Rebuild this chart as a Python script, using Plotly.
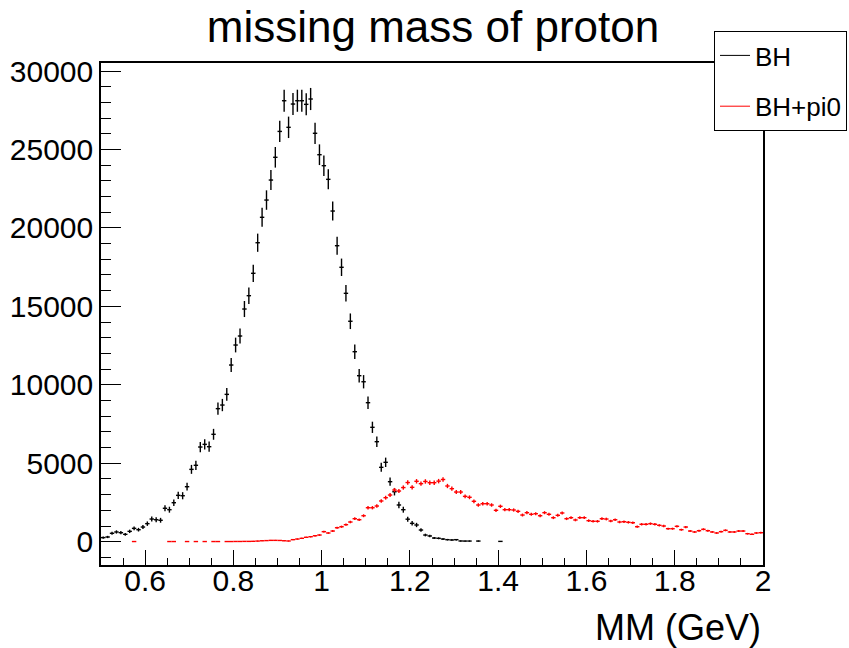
import numpy as np
import plotly.graph_objects as go

# Histogram binning: 150 bins of 0.01 GeV from 0.5 to 2.0
x_lo = 0.5
bin_w = 0.01

# BH (black), bins 0..90 (0 = empty bin, not drawn)
bh = [260, 300, 535, 620, 575, 470, 660, 850, 765, 935,
      1150, 1445, 1400, 1365, 2130, 2040, 2485, 2955, 2930, 3505,
      4610, 4870, 6035, 6205, 6055, 6845, 8480, 8710, 9390, 11260,
      12535, 13110, 14830, 15680, 17105, 19055, 20675, 21775, 23050, 24500,
      26150, 28105, 26410, 27895, 28105, 28105, 27875, 28215, 26030, 24665,
      23965, 23095, 21075, 18865, 17490, 15830, 14050, 12110, 10580, 10195,
      8860, 7290, 6375, 4740, 5060, 3825, 3185, 2340, 2040, 1435,
      1170, 1065, 745, 425, 365, 235, 215, 170, 130, 110,
      130, 45, 41, 41, 0, 41, 0, 0, 0, 0,
      20]

# BH+pi0 (red), bins 0..149
bhpi0 = [0, 0, 0, 0, 0, 0, 0, 10, 0, 0,
         0, 0, 0, 0, 0, 10, 10, 0, 0, 10,
         0, 10, 0, 10, 0, 10, 10, 0, 10, 10,
         15, 15, 20, 20, 25, 40, 60, 70, 85, 85,
         80, 60, 45, 130, 170, 215, 280, 320, 380, 425,
         640, 555, 680, 890, 955, 1085, 1255, 1465, 1400, 1655,
         2165, 2165, 2275, 2595, 2805, 2975, 3295, 3230, 3450, 3770,
         3465, 3850, 3700, 3840, 3760, 3760, 3860, 3965, 3550, 3380,
         3165, 3165, 2890, 2830, 2575, 2340, 2420, 2420, 2340, 2000,
         2255, 2040, 2040, 2020, 1935, 1700, 1850, 1745, 1785, 1655,
         1850, 1745, 1530, 1680, 1830, 1465, 1530, 1385, 1530, 1530,
         1340, 1300, 1300, 1465, 1445, 1320, 1400, 1255, 1275, 1235,
         1210, 955, 1110, 1110, 1150, 1110, 1045, 1000, 830, 830,
         980, 765, 935, 680, 620, 700, 790, 700, 620, 555,
         640, 725, 620, 620, 680, 680, 510, 470, 555, 575]

# error scale (weighted-histogram errors ~ k*sqrt(N))
k_bh = 4.2
k_pi0 = 2.3


def hist_points(vals, k):
    vals = np.asarray(vals, dtype=float)
    centers = x_lo + bin_w * (np.arange(len(vals)) + 0.5)
    m = vals > 0
    return centers[m], vals[m], k * np.sqrt(vals[m])


fig = go.Figure()
for vals, k, col, name, grp in [(bh, k_bh, "black", "BH", "a"),
                                (bhpi0, k_pi0, "#ff0000", "BH+pi0", "b")]:
    xs, ys, es = hist_points(vals, k)
    fig.add_trace(go.Scatter(
        x=xs, y=ys, mode="markers", showlegend=False,
        marker=dict(size=1, color=col),
        error_x=dict(type="constant", value=bin_w / 2, width=0, thickness=1.4, color=col),
        error_y=dict(type="data", array=es, width=0, thickness=1.4, color=col),
    ))
    fig.add_trace(go.Scatter(
        x=[None], y=[None], mode="lines", name=name, legendgroup=grp,
        line=dict(color=col, width=1),
    ))

font = "Liberation Sans, Arial, sans-serif"
fig.update_layout(
    width=849, height=648,
    margin=dict(l=101, r=86, t=63, b=83, autoexpand=False),
    paper_bgcolor="white", plot_bgcolor="white",
    font=dict(family=font, color="black", size=30),
    title=dict(text="missing mass of proton", x=0.51, xref="container", xanchor="center",
               y=1 - 27 / 648, yref="container", yanchor="middle",
               font=dict(size=44, family=font, color="black")),
    legend=dict(x=(714 - 101) / 662, xanchor="left", y=(565 - 31) / 502, yanchor="top",
                bgcolor="white", bordercolor="black", borderwidth=1,
                font=dict(size=26, family=font, color="black"),
                tracegroupgap=14, itemwidth=30, entrywidth=130, entrywidthmode="pixels"),
    xaxis=dict(range=[0.5, 2.0], showgrid=False, zeroline=False,
               showline=True, linecolor="black", linewidth=1.5, mirror=True,
               ticks="inside", ticklen=15, tickwidth=1.3, tickcolor="black",
               tick0=0, dtick=0.2, tickformat="~g", ticklabelstandoff=-12,
               minor=dict(dtick=0.05, ticks="inside", ticklen=7.5, tickwidth=1.3, tickcolor="black"),
               tickfont=dict(size=30)),
    yaxis=dict(range=[-1485, 30510], showgrid=False, zeroline=False,
               showline=True, linecolor="black", linewidth=1.5, mirror=True,
               ticks="inside", ticklen=20, tickwidth=1.3, tickcolor="black",
               tick0=0, dtick=5000, tickformat="d",
               minor=dict(dtick=1000, ticks="inside", ticklen=10, tickwidth=1.3, tickcolor="black"),
               tickfont=dict(size=30)),
    annotations=[dict(text="MM (GeV)", x=1, xref="paper", xanchor="right",
                      y=(565 - 627) / 502, yref="paper", yanchor="middle",
                      showarrow=False, font=dict(size=36, family=font, color="black"))],
)

fig.write_html("out.html")
